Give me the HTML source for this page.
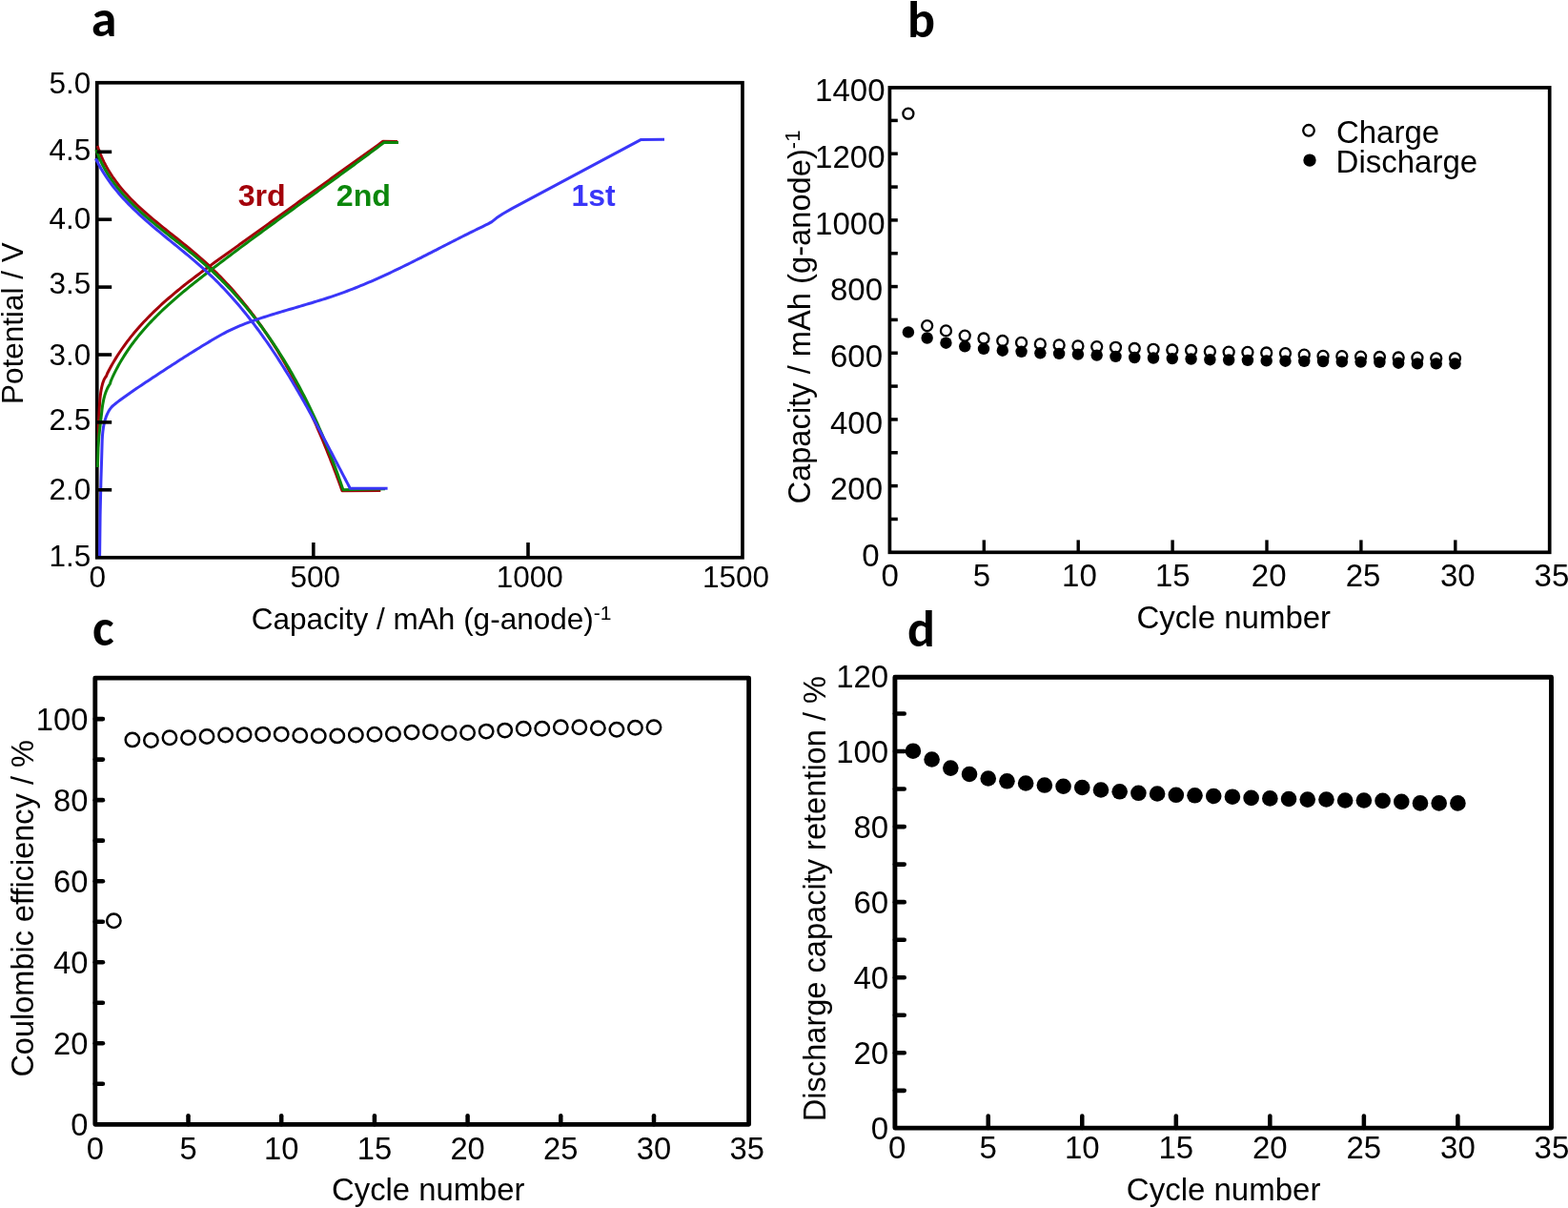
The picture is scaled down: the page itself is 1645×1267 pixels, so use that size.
<!DOCTYPE html>
<html><head><meta charset="utf-8"><title>Figure</title>
<style>html,body{margin:0;padding:0;background:#fff;}body{width:1645px;height:1267px;overflow:hidden;}svg{display:block;}</style>
</head><body>
<svg width="1645" height="1267" viewBox="0 0 1645 1267">
<rect width="1645" height="1267" fill="#fff"/>
<rect x="101.75" y="86.75" width="677.2" height="498.05" fill="none" stroke="#000" stroke-width="3.7" stroke-linejoin="miter"/>
<path d="M102.25,152.96 L103.23,155.94 L104.28,158.86 L105.4,161.73 L106.59,164.56 L107.83,167.33 L109.14,170.06 L110.51,172.75 L111.94,175.39 L113.42,177.98 L114.96,180.54 L116.55,183.05 L118.19,185.53 L119.89,187.97 L121.63,190.37 L123.42,192.74 L125.25,195.07 L127.12,197.37 L129.04,199.64 L131,201.88 L132.99,204.09 L135.02,206.28 L137.09,208.43 L139.19,210.57 L141.32,212.68 L143.48,214.76 L145.67,216.83 L147.88,218.88 L150.12,220.91 L152.39,222.92 L154.67,224.92 L156.97,226.9 L159.29,228.87 L161.63,230.83 L163.98,232.77 L166.35,234.71 L168.73,236.64 L171.11,238.57 L173.51,240.49 L175.91,242.4 L178.31,244.31 L180.72,246.22 L183.13,248.14 L185.54,250.05 L187.94,251.96 L190.35,253.88 L192.74,255.81 L195.13,257.74 L197.51,259.68 L199.88,261.62 L202.24,263.58 L204.59,265.55 L206.92,267.54 L209.23,269.53 L211.52,271.55 L213.79,273.57 L216.05,275.62 L218.28,277.68 L220.49,279.76 L222.69,281.85 L224.87,283.96 L227.02,286.08 L229.16,288.22 L231.28,290.37 L233.38,292.54 L235.47,294.72 L237.53,296.92 L239.58,299.13 L241.61,301.36 L243.62,303.6 L245.61,305.85 L247.59,308.12 L249.55,310.4 L251.49,312.7 L253.41,315 L255.32,317.33 L257.21,319.66 L259.08,322.01 L260.94,324.37 L262.78,326.74 L264.6,329.12 L266.41,331.52 L268.2,333.93 L269.98,336.35 L271.74,338.78 L273.49,341.23 L275.22,343.68 L276.93,346.15 L278.63,348.63 L280.31,351.12 L281.98,353.62 L283.64,356.13 L285.28,358.65 L286.9,361.18 L288.51,363.72 L290.11,366.27 L291.69,368.83 L293.26,371.4 L294.81,373.99 L296.35,376.58 L297.88,379.18 L299.39,381.78 L300.9,384.4 L302.38,387.03 L303.86,389.66 L305.32,392.31 L306.77,394.96 L308.2,397.62 L309.63,400.29 L311.04,402.97 L312.44,405.65 L313.83,408.34 L315.2,411.04 L316.57,413.75 L317.92,416.46 L319.26,419.18 L320.59,421.91 L321.91,424.64 L323.21,427.38 L324.51,430.13 L325.8,432.88 L327.07,435.64 L328.33,438.41 L329.59,441.18 L330.83,443.96 L332.06,446.74 L333.29,449.53 L334.5,452.32 L335.71,455.12 L336.9,457.92 L338.09,460.72 L339.26,463.54 L340.43,466.35 L341.58,469.17 L342.73,472 L343.87,474.82 L345,477.66 L346.13,480.49 L347.24,483.33 L348.35,486.17 L349.45,489.02 L350.54,491.87 L351.62,494.72 L352.7,497.57 L353.76,500.43 L354.82,503.29 L355.88,506.15 L356.92,509.01 L357.96,511.87 L358.99,514.74 L399.3,514.6" fill="none" stroke="#a3000a" stroke-width="3" stroke-linejoin="round" stroke-linecap="butt"/>
<path d="M103.2,462 L103.6,440 L104.3,427 L104.3,427 L104.55,422.8 L104.86,418.88 L105.24,415.22 L105.68,411.83 L106.18,408.72 L106.75,405.88 L107.38,403.3 L108.08,401 L108.84,398.97 L109.66,397.21 L110.55,395.72 L111.5,394.5 L112.57,391.73 L113.98,388.97 L115.44,386.24 L116.92,383.54 L118.44,380.87 L120,378.23 L121.58,375.63 L123.2,373.05 L124.85,370.5 L126.54,367.98 L128.25,365.49 L129.99,363.03 L131.76,360.59 L133.56,358.18 L135.39,355.8 L137.25,353.44 L139.13,351.11 L141.04,348.8 L142.98,346.51 L144.94,344.25 L146.93,342.01 L148.94,339.79 L150.97,337.6 L153.02,335.42 L155.1,333.27 L157.2,331.14 L159.32,329.02 L161.46,326.93 L163.62,324.85 L165.8,322.79 L168,320.75 L170.22,318.73 L172.45,316.72 L174.7,314.73 L176.97,312.75 L179.25,310.79 L181.55,308.84 L183.86,306.9 L186.18,304.98 L188.52,303.07 L190.87,301.18 L193.23,299.29 L195.61,297.42 L197.99,295.55 L200.39,293.7 L202.79,291.85 L205.2,290.02 L207.62,288.19 L210.05,286.37 L212.49,284.56 L214.93,282.75 L217.38,280.95 L219.84,279.16 L222.29,277.37 L224.76,275.58 L227.22,273.8 L229.69,272.02 L232.16,270.25 L234.64,268.47 L237.11,266.7 L239.59,264.93 L242.06,263.17 L244.54,261.4 L247.01,259.63 L249.48,257.86 L251.95,256.09 L254.42,254.32 L256.89,252.55 L259.36,250.78 L261.82,249.01 L264.29,247.24 L266.75,245.47 L269.22,243.7 L271.68,241.93 L274.14,240.16 L276.6,238.39 L279.06,236.62 L281.52,234.85 L283.98,233.08 L286.44,231.31 L288.9,229.54 L291.36,227.77 L293.81,226 L296.27,224.23 L298.72,222.46 L301.18,220.69 L303.63,218.92 L306.09,217.15 L308.54,215.38 L310.99,213.61 L313.45,211.84 L315.9,210.07 L318.35,208.3 L320.81,206.53 L323.26,204.76 L325.71,202.99 L328.16,201.22 L330.61,199.45 L333.06,197.68 L335.52,195.92 L337.97,194.15 L340.42,192.38 L342.87,190.61 L345.32,188.85 L347.77,187.08 L350.23,185.32 L352.68,183.55 L355.13,181.78 L357.58,180.02 L360.04,178.26 L362.49,176.49 L364.94,174.73 L367.4,172.96 L369.85,171.2 L372.31,169.44 L374.76,167.68 L377.22,165.92 L379.68,164.16 L382.13,162.4 L384.59,160.64 L387.05,158.88 L389.51,157.12 L391.97,155.36 L394.43,153.6 L396.89,151.85 L399.35,150.09 L401.81,148.33 L417,148.5" fill="none" stroke="#a3000a" stroke-width="3" stroke-linejoin="round" stroke-linecap="butt"/>
<path d="M100.88,156.98 L101.92,159.9 L103.01,162.77 L104.18,165.59 L105.4,168.37 L106.69,171.1 L108.04,173.78 L109.44,176.42 L110.91,179.02 L112.42,181.58 L113.99,184.09 L115.61,186.57 L117.29,189.02 L119.01,191.42 L120.77,193.79 L122.58,196.13 L124.44,198.44 L126.34,200.71 L128.27,202.96 L130.25,205.17 L132.27,207.36 L134.31,209.52 L136.4,211.66 L138.51,213.78 L140.66,215.87 L142.84,217.94 L145.04,219.99 L147.27,222.02 L149.52,224.04 L151.8,226.03 L154.09,228.02 L156.41,229.99 L158.75,231.94 L161.1,233.89 L163.46,235.83 L165.84,237.75 L168.23,239.67 L170.63,241.58 L173.04,243.49 L175.45,245.4 L177.87,247.3 L180.3,249.2 L182.72,251.1 L185.15,253 L187.57,254.9 L189.99,256.81 L192.41,258.72 L194.82,260.64 L197.22,262.56 L199.62,264.49 L202,266.44 L204.37,268.39 L206.72,270.35 L209.06,272.33 L211.39,274.33 L213.69,276.34 L215.97,278.36 L218.24,280.4 L220.49,282.45 L222.72,284.52 L224.93,286.61 L227.13,288.71 L229.31,290.82 L231.47,292.95 L233.61,295.09 L235.73,297.25 L237.84,299.42 L239.93,301.6 L242,303.8 L244.06,306.01 L246.1,308.24 L248.12,310.47 L250.12,312.73 L252.11,314.99 L254.08,317.27 L256.04,319.56 L257.97,321.87 L259.9,324.18 L261.8,326.51 L263.69,328.85 L265.56,331.21 L267.42,333.57 L269.26,335.95 L271.09,338.34 L272.89,340.75 L274.69,343.16 L276.47,345.59 L278.23,348.03 L279.98,350.47 L281.71,352.93 L283.42,355.41 L285.12,357.89 L286.81,360.38 L288.48,362.89 L290.14,365.4 L291.78,367.93 L293.41,370.46 L295.02,373.01 L296.62,375.57 L298.2,378.13 L299.77,380.71 L301.32,383.3 L302.86,385.89 L304.39,388.5 L305.9,391.12 L307.4,393.74 L308.88,396.38 L310.36,399.02 L311.81,401.67 L313.26,404.33 L314.69,407 L316.1,409.68 L317.51,412.37 L318.9,415.06 L320.28,417.77 L321.64,420.48 L322.99,423.2 L324.33,425.93 L325.66,428.67 L326.97,431.41 L328.27,434.16 L329.56,436.92 L330.84,439.69 L332.1,442.46 L333.35,445.24 L334.59,448.03 L335.82,450.82 L337.03,453.62 L338.24,456.43 L339.43,459.25 L340.61,462.07 L341.78,464.9 L342.94,467.73 L344.08,470.57 L345.22,473.41 L346.34,476.26 L347.46,479.12 L348.56,481.98 L349.65,484.85 L350.73,487.72 L351.8,490.6 L352.86,493.49 L353.9,496.38 L354.94,499.27 L355.97,502.17 L356.99,505.07 L357.99,507.98 L358.99,510.89 L359.98,513.8 L404,512.8" fill="none" stroke="#0b870b" stroke-width="3" stroke-linejoin="round" stroke-linecap="butt"/>
<path d="M102.4,490 L103,470 L103.8,457.6 L105.2,445 L106.7,432.8 L106.7,432.8 L107.05,429.41 L107.47,426.18 L107.96,423.11 L108.52,420.19 L109.15,417.43 L109.85,414.82 L110.62,412.38 L111.46,410.09 L112.36,407.96 L113.34,405.98 L114.38,404.16 L115.5,402.5 L116.28,399.61 L117.53,396.76 L118.83,393.95 L120.17,391.17 L121.55,388.42 L122.96,385.71 L124.42,383.03 L125.92,380.38 L127.45,377.76 L129.02,375.17 L130.62,372.61 L132.26,370.08 L133.94,367.58 L135.65,365.11 L137.39,362.66 L139.16,360.24 L140.96,357.85 L142.8,355.48 L144.66,353.14 L146.56,350.82 L148.48,348.53 L150.42,346.26 L152.4,344.01 L154.4,341.78 L156.43,339.58 L158.48,337.39 L160.55,335.23 L162.65,333.08 L164.76,330.95 L166.9,328.85 L169.06,326.76 L171.24,324.68 L173.44,322.62 L175.65,320.58 L177.89,318.56 L180.14,316.54 L182.4,314.55 L184.68,312.56 L186.98,310.59 L189.28,308.63 L191.6,306.68 L193.93,304.75 L196.28,302.82 L198.63,300.9 L200.99,299 L203.36,297.1 L205.74,295.21 L208.13,293.32 L210.52,291.45 L212.92,289.57 L215.32,287.71 L217.73,285.85 L220.14,283.99 L222.55,282.14 L224.97,280.29 L227.38,278.45 L229.8,276.6 L232.22,274.76 L234.65,272.93 L237.07,271.1 L239.5,269.27 L241.93,267.44 L244.36,265.62 L246.79,263.79 L249.22,261.98 L251.66,260.16 L254.1,258.35 L256.54,256.54 L258.98,254.73 L261.42,252.92 L263.86,251.12 L266.3,249.32 L268.75,247.52 L271.19,245.72 L273.64,243.92 L276.09,242.13 L278.54,240.34 L280.99,238.54 L283.44,236.76 L285.89,234.97 L288.34,233.18 L290.79,231.4 L293.25,229.61 L295.7,227.83 L298.15,226.05 L300.61,224.27 L303.06,222.49 L305.51,220.71 L307.97,218.93 L310.42,217.15 L312.88,215.38 L315.33,213.6 L317.79,211.82 L320.24,210.05 L322.7,208.27 L325.15,206.5 L327.6,204.72 L330.06,202.95 L332.51,201.17 L334.96,199.4 L337.41,197.62 L339.86,195.84 L342.31,194.07 L344.76,192.29 L347.21,190.51 L349.66,188.73 L352.1,186.96 L354.55,185.18 L356.99,183.4 L359.44,181.61 L361.88,179.83 L364.32,178.05 L366.76,176.26 L369.2,174.48 L371.63,172.69 L374.07,170.9 L376.5,169.11 L378.93,167.32 L381.36,165.52 L383.79,163.73 L386.22,161.93 L388.64,160.13 L391.06,158.33 L393.48,156.52 L395.9,154.72 L398.32,152.91 L400.73,151.1 L403.14,149.29 L418,149.6" fill="none" stroke="#0b870b" stroke-width="3" stroke-linejoin="round" stroke-linecap="butt"/>
<path d="M100.47,166.27 L101.79,169 L103.16,171.68 L104.59,174.33 L106.06,176.94 L107.58,179.51 L109.15,182.05 L110.76,184.55 L112.42,187.02 L114.12,189.45 L115.86,191.85 L117.64,194.23 L119.45,196.57 L121.31,198.88 L123.2,201.17 L125.13,203.43 L127.09,205.67 L129.08,207.88 L131.1,210.06 L133.15,212.23 L135.23,214.37 L137.33,216.49 L139.47,218.6 L141.62,220.68 L143.8,222.75 L146,224.8 L148.22,226.84 L150.46,228.86 L152.72,230.87 L155,232.87 L157.29,234.85 L159.59,236.83 L161.91,238.8 L164.24,240.76 L166.58,242.71 L168.92,244.65 L171.28,246.6 L173.64,248.53 L176.01,250.47 L178.37,252.4 L180.75,254.33 L183.12,256.27 L185.49,258.2 L187.86,260.14 L190.23,262.08 L192.6,264.02 L194.96,265.97 L197.31,267.92 L199.66,269.89 L201.99,271.86 L204.32,273.84 L206.63,275.83 L208.93,277.84 L211.22,279.85 L213.49,281.88 L215.74,283.93 L217.97,285.99 L220.19,288.07 L222.39,290.16 L224.56,292.27 L226.72,294.39 L228.86,296.54 L230.99,298.69 L233.09,300.86 L235.18,303.05 L237.25,305.25 L239.3,307.47 L241.33,309.7 L243.35,311.95 L245.35,314.2 L247.34,316.48 L249.31,318.76 L251.26,321.06 L253.2,323.37 L255.12,325.7 L257.02,328.04 L258.92,330.39 L260.79,332.75 L262.65,335.12 L264.5,337.51 L266.33,339.91 L268.15,342.31 L269.96,344.73 L271.75,347.16 L273.53,349.6 L275.3,352.05 L277.05,354.52 L278.79,356.99 L280.52,359.47 L282.23,361.96 L283.94,364.46 L285.63,366.97 L287.31,369.48 L288.98,372.01 L290.64,374.54 L292.29,377.08 L293.92,379.63 L295.55,382.19 L297.17,384.76 L298.78,387.33 L300.37,389.91 L301.96,392.49 L303.54,395.09 L305.11,397.68 L306.67,400.29 L308.22,402.9 L309.77,405.52 L311.3,408.14 L312.83,410.76 L314.35,413.4 L315.86,416.03 L317.37,418.67 L318.87,421.32 L320.36,423.97 L321.84,426.62 L323.32,429.28 L324.8,431.94 L326.26,434.6 L327.73,437.27 L329.18,439.94 L330.63,442.61 L332.08,445.28 L333.52,447.96 L334.96,450.64 L336.39,453.32 L337.82,456 L339.24,458.68 L340.66,461.36 L342.08,464.04 L343.49,466.73 L344.91,469.41 L346.32,472.1 L347.72,474.78 L349.13,477.46 L350.53,480.15 L351.93,482.83 L353.33,485.51 L354.72,488.19 L356.12,490.87 L357.52,493.55 L358.91,496.22 L360.3,498.89 L361.7,501.56 L363.09,504.23 L364.49,506.89 L365.88,509.55 L367.27,512.21 L406.6,512.3" fill="none" stroke="#3a36f8" stroke-width="3" stroke-linejoin="round" stroke-linecap="butt"/>
<path d="M104.6,583 L105.1,540 L105.9,505 L106.7,478.9 L107.2,462 L107.2,462 L107.46,457.15 L107.89,452.6 L108.47,448.34 L109.22,444.39 L110.13,440.73 L111.2,437.38 L112.43,434.32 L113.82,431.56 L115.38,429.09 L117.09,426.93 L118.96,425.07 L121,423.5 L123.36,421.6 L125.8,419.8 L128.25,418.01 L130.7,416.24 L133.17,414.48 L135.64,412.74 L138.12,411.01 L140.61,409.28 L143.11,407.57 L145.61,405.87 L148.12,404.18 L150.63,402.49 L153.15,400.81 L155.67,399.14 L158.2,397.47 L160.73,395.8 L163.26,394.14 L165.79,392.48 L168.33,390.82 L170.87,389.16 L173.41,387.5 L175.96,385.85 L178.5,384.2 L181.05,382.55 L183.6,380.9 L186.15,379.25 L188.71,377.61 L191.27,375.98 L193.83,374.35 L196.4,372.72 L198.97,371.1 L201.54,369.48 L204.11,367.87 L206.69,366.26 L209.28,364.67 L211.86,363.08 L214.45,361.49 L217.05,359.92 L219.65,358.35 L222.25,356.8 L224.87,355.26 L227.49,353.74 L230.12,352.24 L232.77,350.78 L235.43,349.34 L238.11,347.95 L240.8,346.6 L243.52,345.29 L246.26,344.03 L249.01,342.82 L251.79,341.65 L254.58,340.52 L257.39,339.43 L260.21,338.37 L263.05,337.34 L265.9,336.33 L268.75,335.34 L271.62,334.37 L274.49,333.42 L277.37,332.49 L280.25,331.56 L283.14,330.65 L286.04,329.76 L288.94,328.87 L291.85,327.99 L294.75,327.12 L297.67,326.25 L300.58,325.4 L303.5,324.54 L306.42,323.69 L309.34,322.84 L312.26,321.98 L315.18,321.13 L318.1,320.28 L321.02,319.42 L323.93,318.56 L326.85,317.69 L329.76,316.81 L332.67,315.92 L335.57,315.03 L338.47,314.12 L341.37,313.2 L344.25,312.27 L347.14,311.32 L350.01,310.36 L352.88,309.38 L355.75,308.38 L358.6,307.36 L361.44,306.32 L364.28,305.26 L367.11,304.19 L369.94,303.1 L372.75,301.99 L375.56,300.87 L378.37,299.73 L381.17,298.57 L383.96,297.4 L386.74,296.22 L389.52,295.02 L392.3,293.81 L395.06,292.58 L397.83,291.34 L400.59,290.1 L403.34,288.84 L406.09,287.57 L408.83,286.28 L411.57,284.99 L414.31,283.69 L417.04,282.38 L419.77,281.07 L422.5,279.74 L425.22,278.41 L427.94,277.07 L430.66,275.73 L433.38,274.38 L436.09,273.02 L438.8,271.66 L441.51,270.29 L444.22,268.92 L446.92,267.55 L449.63,266.18 L452.33,264.8 L455.03,263.42 L457.74,262.04 L460.44,260.66 L463.14,259.27 L465.84,257.89 L468.54,256.51 L471.24,255.13 L473.95,253.75 L476.65,252.38 L479.35,251 L482.06,249.63 L484.76,248.27 L487.47,246.91 L490.18,245.55 L492.89,244.2 L495.61,242.85 L498.33,241.51 L501.04,240.18 L503.77,238.85 L506.49,237.53 L509.22,236.22 L511.95,234.92 L516,232.6 L521,228.6 L527.5,224.2 L537.3,218.6 L672.6,146.4 L697,146.2" fill="none" stroke="#3a36f8" stroke-width="3" stroke-linejoin="round" stroke-linecap="butt"/>
<line x1="101.75" y1="159.3" x2="117.2" y2="159.3" stroke="#000" stroke-width="3.6" stroke-linecap="butt"/>
<line x1="101.75" y1="230.2" x2="117.2" y2="230.2" stroke="#000" stroke-width="3.6" stroke-linecap="butt"/>
<line x1="101.75" y1="301.1" x2="117.2" y2="301.1" stroke="#000" stroke-width="3.6" stroke-linecap="butt"/>
<line x1="101.75" y1="372" x2="117.2" y2="372" stroke="#000" stroke-width="3.6" stroke-linecap="butt"/>
<line x1="101.75" y1="442.9" x2="117.2" y2="442.9" stroke="#000" stroke-width="3.6" stroke-linecap="butt"/>
<line x1="101.75" y1="513.8" x2="117.2" y2="513.8" stroke="#000" stroke-width="3.6" stroke-linecap="butt"/>
<line x1="328.8" y1="584.8" x2="328.8" y2="569" stroke="#000" stroke-width="3.6" stroke-linecap="butt"/>
<line x1="554" y1="584.8" x2="554" y2="569" stroke="#000" stroke-width="3.6" stroke-linecap="butt"/>
<text x="95.2" y="98.28" font-size="31.5" text-anchor="end" font-weight="normal" fill="#000" font-family="'Liberation Sans', Arial, Helvetica, sans-serif">5.0</text>
<text x="95.2" y="168.48" font-size="31.5" text-anchor="end" font-weight="normal" fill="#000" font-family="'Liberation Sans', Arial, Helvetica, sans-serif">4.5</text>
<text x="95.2" y="240.28" font-size="31.5" text-anchor="end" font-weight="normal" fill="#000" font-family="'Liberation Sans', Arial, Helvetica, sans-serif">4.0</text>
<text x="95.2" y="307.68" font-size="31.5" text-anchor="end" font-weight="normal" fill="#000" font-family="'Liberation Sans', Arial, Helvetica, sans-serif">3.5</text>
<text x="95.2" y="382.58" font-size="31.5" text-anchor="end" font-weight="normal" fill="#000" font-family="'Liberation Sans', Arial, Helvetica, sans-serif">3.0</text>
<text x="95.2" y="451.38" font-size="31.5" text-anchor="end" font-weight="normal" fill="#000" font-family="'Liberation Sans', Arial, Helvetica, sans-serif">2.5</text>
<text x="95.2" y="524.48" font-size="31.5" text-anchor="end" font-weight="normal" fill="#000" font-family="'Liberation Sans', Arial, Helvetica, sans-serif">2.0</text>
<text x="95.2" y="594.08" font-size="31.5" text-anchor="end" font-weight="normal" fill="#000" font-family="'Liberation Sans', Arial, Helvetica, sans-serif">1.5</text>
<text x="102.2" y="616.3" font-size="31.5" text-anchor="middle" font-weight="normal" fill="#000" font-family="'Liberation Sans', Arial, Helvetica, sans-serif">0</text>
<text x="330.8" y="616.3" font-size="31.5" text-anchor="middle" font-weight="normal" fill="#000" font-family="'Liberation Sans', Arial, Helvetica, sans-serif">500</text>
<text x="555.7" y="616.3" font-size="31.5" text-anchor="middle" font-weight="normal" fill="#000" font-family="'Liberation Sans', Arial, Helvetica, sans-serif">1000</text>
<text x="772.1" y="616.3" font-size="31.5" text-anchor="middle" font-weight="normal" fill="#000" font-family="'Liberation Sans', Arial, Helvetica, sans-serif">1500</text>
<text x="263.8" y="659.5" font-size="31.5" text-anchor="start" font-weight="normal" fill="#000" font-family="'Liberation Sans', Arial, Helvetica, sans-serif">Capacity / mAh (g-anode)<tspan font-size="21" dy="-9.3">-1</tspan></text>
<text x="0" y="0" font-size="31.5" text-anchor="start" font-weight="normal" fill="#000" font-family="'Liberation Sans', Arial, Helvetica, sans-serif" transform="translate(23.6,424) rotate(-90)">Potential / V</text>
<text x="249.7" y="216.1" font-size="32.2" text-anchor="start" font-weight="bold" fill="#a3000a" font-family="'Liberation Sans', Arial, Helvetica, sans-serif">3rd</text>
<text x="352.8" y="216.1" font-size="32.2" text-anchor="start" font-weight="bold" fill="#0b870b" font-family="'Liberation Sans', Arial, Helvetica, sans-serif">2nd</text>
<text x="599.5" y="216.1" font-size="32" text-anchor="start" font-weight="bold" fill="#3a36f8" font-family="'Liberation Sans', Arial, Helvetica, sans-serif">1st</text>
<rect x="933.4" y="91.9" width="692.3" height="487.4" fill="none" stroke="#000" stroke-width="3.7" stroke-linejoin="miter"/>
<line x1="933.4" y1="544.46" x2="941.8" y2="544.46" stroke="#000" stroke-width="3.5" stroke-linecap="butt"/>
<line x1="933.4" y1="509.62" x2="941.8" y2="509.62" stroke="#000" stroke-width="3.5" stroke-linecap="butt"/>
<line x1="933.4" y1="474.78" x2="941.8" y2="474.78" stroke="#000" stroke-width="3.5" stroke-linecap="butt"/>
<line x1="933.4" y1="439.94" x2="941.8" y2="439.94" stroke="#000" stroke-width="3.5" stroke-linecap="butt"/>
<line x1="933.4" y1="405.1" x2="941.8" y2="405.1" stroke="#000" stroke-width="3.5" stroke-linecap="butt"/>
<line x1="933.4" y1="370.26" x2="941.8" y2="370.26" stroke="#000" stroke-width="3.5" stroke-linecap="butt"/>
<line x1="933.4" y1="335.42" x2="941.8" y2="335.42" stroke="#000" stroke-width="3.5" stroke-linecap="butt"/>
<line x1="933.4" y1="300.58" x2="941.8" y2="300.58" stroke="#000" stroke-width="3.5" stroke-linecap="butt"/>
<line x1="933.4" y1="265.74" x2="941.8" y2="265.74" stroke="#000" stroke-width="3.5" stroke-linecap="butt"/>
<line x1="933.4" y1="230.9" x2="941.8" y2="230.9" stroke="#000" stroke-width="3.5" stroke-linecap="butt"/>
<line x1="933.4" y1="196.06" x2="941.8" y2="196.06" stroke="#000" stroke-width="3.5" stroke-linecap="butt"/>
<line x1="933.4" y1="161.22" x2="941.8" y2="161.22" stroke="#000" stroke-width="3.5" stroke-linecap="butt"/>
<line x1="933.4" y1="126.38" x2="941.8" y2="126.38" stroke="#000" stroke-width="3.5" stroke-linecap="butt"/>
<line x1="1032.3" y1="579.3" x2="1032.3" y2="566.4" stroke="#000" stroke-width="3.4" stroke-linecap="butt"/>
<line x1="1131.2" y1="579.3" x2="1131.2" y2="566.4" stroke="#000" stroke-width="3.4" stroke-linecap="butt"/>
<line x1="1230.1" y1="579.3" x2="1230.1" y2="566.4" stroke="#000" stroke-width="3.4" stroke-linecap="butt"/>
<line x1="1329" y1="579.3" x2="1329" y2="566.4" stroke="#000" stroke-width="3.4" stroke-linecap="butt"/>
<line x1="1427.9" y1="579.3" x2="1427.9" y2="566.4" stroke="#000" stroke-width="3.4" stroke-linecap="butt"/>
<line x1="1526.8" y1="579.3" x2="1526.8" y2="566.4" stroke="#000" stroke-width="3.4" stroke-linecap="butt"/>
<text x="922.5" y="594.11" font-size="33" text-anchor="end" font-weight="normal" fill="#000" font-family="'Liberation Sans', Arial, Helvetica, sans-serif">0</text>
<text x="926" y="524.43" font-size="33" text-anchor="end" font-weight="normal" fill="#000" font-family="'Liberation Sans', Arial, Helvetica, sans-serif">200</text>
<text x="926" y="454.75" font-size="33" text-anchor="end" font-weight="normal" fill="#000" font-family="'Liberation Sans', Arial, Helvetica, sans-serif">400</text>
<text x="926" y="385.07" font-size="33" text-anchor="end" font-weight="normal" fill="#000" font-family="'Liberation Sans', Arial, Helvetica, sans-serif">600</text>
<text x="926" y="315.39" font-size="33" text-anchor="end" font-weight="normal" fill="#000" font-family="'Liberation Sans', Arial, Helvetica, sans-serif">800</text>
<text x="928.5" y="245.71" font-size="33" text-anchor="end" font-weight="normal" fill="#000" font-family="'Liberation Sans', Arial, Helvetica, sans-serif">1000</text>
<text x="928.5" y="176.03" font-size="33" text-anchor="end" font-weight="normal" fill="#000" font-family="'Liberation Sans', Arial, Helvetica, sans-serif">1200</text>
<text x="928.5" y="106.35" font-size="33" text-anchor="end" font-weight="normal" fill="#000" font-family="'Liberation Sans', Arial, Helvetica, sans-serif">1400</text>
<text x="933.6" y="614.9" font-size="33" text-anchor="middle" font-weight="normal" fill="#000" font-family="'Liberation Sans', Arial, Helvetica, sans-serif">0</text>
<text x="1029.9" y="614.9" font-size="33" text-anchor="middle" font-weight="normal" fill="#000" font-family="'Liberation Sans', Arial, Helvetica, sans-serif">5</text>
<text x="1132.4" y="614.9" font-size="33" text-anchor="middle" font-weight="normal" fill="#000" font-family="'Liberation Sans', Arial, Helvetica, sans-serif">10</text>
<text x="1230.3" y="614.9" font-size="33" text-anchor="middle" font-weight="normal" fill="#000" font-family="'Liberation Sans', Arial, Helvetica, sans-serif">15</text>
<text x="1331.2" y="614.9" font-size="33" text-anchor="middle" font-weight="normal" fill="#000" font-family="'Liberation Sans', Arial, Helvetica, sans-serif">20</text>
<text x="1430.1" y="614.9" font-size="33" text-anchor="middle" font-weight="normal" fill="#000" font-family="'Liberation Sans', Arial, Helvetica, sans-serif">25</text>
<text x="1529.3" y="614.9" font-size="33" text-anchor="middle" font-weight="normal" fill="#000" font-family="'Liberation Sans', Arial, Helvetica, sans-serif">30</text>
<text x="1627.9" y="614.9" font-size="33" text-anchor="middle" font-weight="normal" fill="#000" font-family="'Liberation Sans', Arial, Helvetica, sans-serif">35</text>
<text x="1192.5" y="658.8" font-size="33" text-anchor="start" font-weight="normal" fill="#000" font-family="'Liberation Sans', Arial, Helvetica, sans-serif">Cycle number</text>
<text x="0" y="0" font-size="32.7" text-anchor="start" font-weight="normal" fill="#000" font-family="'Liberation Sans', Arial, Helvetica, sans-serif" transform="translate(849.5,528.6) rotate(-90)">Capacity / mAh (g-anode)<tspan font-size="22" dy="-10.5">-1</tspan></text>
<circle cx="1373" cy="136.8" r="5.8" fill="#fff" stroke="#000" stroke-width="2.3"/>
<circle cx="1374" cy="168.1" r="6.7" fill="#000"/>
<text x="1401.9" y="149.8" font-size="33" text-anchor="start" font-weight="normal" fill="#000" font-family="'Liberation Sans', Arial, Helvetica, sans-serif">Charge</text>
<text x="1401.6" y="180.9" font-size="33" text-anchor="start" font-weight="normal" fill="#000" font-family="'Liberation Sans', Arial, Helvetica, sans-serif">Discharge</text>
<circle cx="952.88" cy="119.2" r="5.5" fill="#fff" stroke="#000" stroke-width="2.3"/>
<circle cx="972.66" cy="341.6" r="5.5" fill="#fff" stroke="#000" stroke-width="2.3"/>
<circle cx="992.44" cy="346.9" r="5.5" fill="#fff" stroke="#000" stroke-width="2.3"/>
<circle cx="1012.22" cy="352.1" r="5.5" fill="#fff" stroke="#000" stroke-width="2.3"/>
<circle cx="1032" cy="355" r="5.5" fill="#fff" stroke="#000" stroke-width="2.3"/>
<circle cx="1051.78" cy="357.5" r="5.5" fill="#fff" stroke="#000" stroke-width="2.3"/>
<circle cx="1071.56" cy="359.4" r="5.5" fill="#fff" stroke="#000" stroke-width="2.3"/>
<circle cx="1091.34" cy="360.9" r="5.5" fill="#fff" stroke="#000" stroke-width="2.3"/>
<circle cx="1111.12" cy="361.9" r="5.5" fill="#fff" stroke="#000" stroke-width="2.3"/>
<circle cx="1130.9" cy="362.9" r="5.5" fill="#fff" stroke="#000" stroke-width="2.3"/>
<circle cx="1150.68" cy="363.6" r="5.5" fill="#fff" stroke="#000" stroke-width="2.3"/>
<circle cx="1170.46" cy="364.3" r="5.5" fill="#fff" stroke="#000" stroke-width="2.3"/>
<circle cx="1190.24" cy="365.5" r="5.5" fill="#fff" stroke="#000" stroke-width="2.3"/>
<circle cx="1210.02" cy="366.3" r="5.5" fill="#fff" stroke="#000" stroke-width="2.3"/>
<circle cx="1229.8" cy="367" r="5.5" fill="#fff" stroke="#000" stroke-width="2.3"/>
<circle cx="1249.58" cy="367.5" r="5.5" fill="#fff" stroke="#000" stroke-width="2.3"/>
<circle cx="1269.36" cy="368.7" r="5.5" fill="#fff" stroke="#000" stroke-width="2.3"/>
<circle cx="1289.14" cy="369.2" r="5.5" fill="#fff" stroke="#000" stroke-width="2.3"/>
<circle cx="1308.92" cy="369.4" r="5.5" fill="#fff" stroke="#000" stroke-width="2.3"/>
<circle cx="1328.7" cy="370" r="5.5" fill="#fff" stroke="#000" stroke-width="2.3"/>
<circle cx="1348.48" cy="370.6" r="5.5" fill="#fff" stroke="#000" stroke-width="2.3"/>
<circle cx="1368.26" cy="372.2" r="5.5" fill="#fff" stroke="#000" stroke-width="2.3"/>
<circle cx="1388.04" cy="373.4" r="5.5" fill="#fff" stroke="#000" stroke-width="2.3"/>
<circle cx="1407.82" cy="373.7" r="5.5" fill="#fff" stroke="#000" stroke-width="2.3"/>
<circle cx="1427.6" cy="374.1" r="5.5" fill="#fff" stroke="#000" stroke-width="2.3"/>
<circle cx="1447.38" cy="374.5" r="5.5" fill="#fff" stroke="#000" stroke-width="2.3"/>
<circle cx="1467.16" cy="375" r="5.5" fill="#fff" stroke="#000" stroke-width="2.3"/>
<circle cx="1486.94" cy="375.2" r="5.5" fill="#fff" stroke="#000" stroke-width="2.3"/>
<circle cx="1506.72" cy="375.8" r="5.5" fill="#fff" stroke="#000" stroke-width="2.3"/>
<circle cx="1526.5" cy="375.8" r="5.5" fill="#fff" stroke="#000" stroke-width="2.3"/>
<circle cx="952.88" cy="348.4" r="6.2" fill="#000"/>
<circle cx="972.66" cy="354.5" r="6.2" fill="#000"/>
<circle cx="992.44" cy="359.7" r="6.2" fill="#000"/>
<circle cx="1012.22" cy="363.3" r="6.2" fill="#000"/>
<circle cx="1032" cy="365.9" r="6.2" fill="#000"/>
<circle cx="1051.78" cy="367.7" r="6.2" fill="#000"/>
<circle cx="1071.56" cy="368.8" r="6.2" fill="#000"/>
<circle cx="1091.34" cy="370.3" r="6.2" fill="#000"/>
<circle cx="1111.12" cy="370.9" r="6.2" fill="#000"/>
<circle cx="1130.9" cy="371.6" r="6.2" fill="#000"/>
<circle cx="1150.68" cy="372.6" r="6.2" fill="#000"/>
<circle cx="1170.46" cy="373.9" r="6.2" fill="#000"/>
<circle cx="1190.24" cy="375" r="6.2" fill="#000"/>
<circle cx="1210.02" cy="375.5" r="6.2" fill="#000"/>
<circle cx="1229.8" cy="376.1" r="6.2" fill="#000"/>
<circle cx="1249.58" cy="376.5" r="6.2" fill="#000"/>
<circle cx="1269.36" cy="377.2" r="6.2" fill="#000"/>
<circle cx="1289.14" cy="377.5" r="6.2" fill="#000"/>
<circle cx="1308.92" cy="377.9" r="6.2" fill="#000"/>
<circle cx="1328.7" cy="378.4" r="6.2" fill="#000"/>
<circle cx="1348.48" cy="378.7" r="6.2" fill="#000"/>
<circle cx="1368.26" cy="378.9" r="6.2" fill="#000"/>
<circle cx="1388.04" cy="379" r="6.2" fill="#000"/>
<circle cx="1407.82" cy="379.4" r="6.2" fill="#000"/>
<circle cx="1427.6" cy="379.6" r="6.2" fill="#000"/>
<circle cx="1447.38" cy="379.9" r="6.2" fill="#000"/>
<circle cx="1467.16" cy="380.7" r="6.2" fill="#000"/>
<circle cx="1486.94" cy="381.4" r="6.2" fill="#000"/>
<circle cx="1506.72" cy="381.4" r="6.2" fill="#000"/>
<circle cx="1526.5" cy="381.4" r="6.2" fill="#000"/>
<rect x="99.8" y="711.1" width="685.8" height="468.2" fill="none" stroke="#000" stroke-width="4.8" stroke-linejoin="round"/>
<line x1="99.8" y1="1136.78" x2="107.9" y2="1136.78" stroke="#000" stroke-width="4.6" stroke-linecap="round"/>
<line x1="99.8" y1="1094.26" x2="107.9" y2="1094.26" stroke="#000" stroke-width="4.6" stroke-linecap="round"/>
<line x1="99.8" y1="1051.74" x2="107.9" y2="1051.74" stroke="#000" stroke-width="4.6" stroke-linecap="round"/>
<line x1="99.8" y1="1009.22" x2="107.9" y2="1009.22" stroke="#000" stroke-width="4.6" stroke-linecap="round"/>
<line x1="99.8" y1="966.7" x2="107.9" y2="966.7" stroke="#000" stroke-width="4.6" stroke-linecap="round"/>
<line x1="99.8" y1="924.18" x2="107.9" y2="924.18" stroke="#000" stroke-width="4.6" stroke-linecap="round"/>
<line x1="99.8" y1="881.66" x2="107.9" y2="881.66" stroke="#000" stroke-width="4.6" stroke-linecap="round"/>
<line x1="99.8" y1="839.14" x2="107.9" y2="839.14" stroke="#000" stroke-width="4.6" stroke-linecap="round"/>
<line x1="99.8" y1="796.62" x2="107.9" y2="796.62" stroke="#000" stroke-width="4.6" stroke-linecap="round"/>
<line x1="99.8" y1="754.1" x2="107.9" y2="754.1" stroke="#000" stroke-width="4.6" stroke-linecap="round"/>
<line x1="197.5" y1="1179.3" x2="197.5" y2="1170.25" stroke="#000" stroke-width="4.5" stroke-linecap="round"/>
<line x1="295.2" y1="1179.3" x2="295.2" y2="1170.25" stroke="#000" stroke-width="4.5" stroke-linecap="round"/>
<line x1="392.9" y1="1179.3" x2="392.9" y2="1170.25" stroke="#000" stroke-width="4.5" stroke-linecap="round"/>
<line x1="490.6" y1="1179.3" x2="490.6" y2="1170.25" stroke="#000" stroke-width="4.5" stroke-linecap="round"/>
<line x1="588.3" y1="1179.3" x2="588.3" y2="1170.25" stroke="#000" stroke-width="4.5" stroke-linecap="round"/>
<line x1="686" y1="1179.3" x2="686" y2="1170.25" stroke="#000" stroke-width="4.5" stroke-linecap="round"/>
<text x="92.4" y="1191.01" font-size="32.7" text-anchor="end" font-weight="normal" fill="#000" font-family="'Liberation Sans', Arial, Helvetica, sans-serif">0</text>
<text x="92.4" y="1105.97" font-size="32.7" text-anchor="end" font-weight="normal" fill="#000" font-family="'Liberation Sans', Arial, Helvetica, sans-serif">20</text>
<text x="92.4" y="1020.93" font-size="32.7" text-anchor="end" font-weight="normal" fill="#000" font-family="'Liberation Sans', Arial, Helvetica, sans-serif">40</text>
<text x="92.4" y="935.89" font-size="32.7" text-anchor="end" font-weight="normal" fill="#000" font-family="'Liberation Sans', Arial, Helvetica, sans-serif">60</text>
<text x="92.4" y="850.85" font-size="32.7" text-anchor="end" font-weight="normal" fill="#000" font-family="'Liberation Sans', Arial, Helvetica, sans-serif">80</text>
<text x="92.4" y="765.81" font-size="32.7" text-anchor="end" font-weight="normal" fill="#000" font-family="'Liberation Sans', Arial, Helvetica, sans-serif">100</text>
<text x="99.8" y="1215.7" font-size="32.7" text-anchor="middle" font-weight="normal" fill="#000" font-family="'Liberation Sans', Arial, Helvetica, sans-serif">0</text>
<text x="197.5" y="1215.7" font-size="32.7" text-anchor="middle" font-weight="normal" fill="#000" font-family="'Liberation Sans', Arial, Helvetica, sans-serif">5</text>
<text x="295.2" y="1215.7" font-size="32.7" text-anchor="middle" font-weight="normal" fill="#000" font-family="'Liberation Sans', Arial, Helvetica, sans-serif">10</text>
<text x="392.9" y="1215.7" font-size="32.7" text-anchor="middle" font-weight="normal" fill="#000" font-family="'Liberation Sans', Arial, Helvetica, sans-serif">15</text>
<text x="490.6" y="1215.7" font-size="32.7" text-anchor="middle" font-weight="normal" fill="#000" font-family="'Liberation Sans', Arial, Helvetica, sans-serif">20</text>
<text x="588.3" y="1215.7" font-size="32.7" text-anchor="middle" font-weight="normal" fill="#000" font-family="'Liberation Sans', Arial, Helvetica, sans-serif">25</text>
<text x="686" y="1215.7" font-size="32.7" text-anchor="middle" font-weight="normal" fill="#000" font-family="'Liberation Sans', Arial, Helvetica, sans-serif">30</text>
<text x="783.7" y="1215.7" font-size="32.7" text-anchor="middle" font-weight="normal" fill="#000" font-family="'Liberation Sans', Arial, Helvetica, sans-serif">35</text>
<text x="348.1" y="1258.8" font-size="32.8" text-anchor="start" font-weight="normal" fill="#000" font-family="'Liberation Sans', Arial, Helvetica, sans-serif">Cycle number</text>
<text x="0" y="0" font-size="32.5" text-anchor="start" font-weight="normal" fill="#000" font-family="'Liberation Sans', Arial, Helvetica, sans-serif" transform="translate(35.2,1129.6) rotate(-90)">Coulombic efficiency / %</text>
<circle cx="119.34" cy="965.7" r="7.2" fill="none" stroke="#000" stroke-width="2.5"/>
<circle cx="138.88" cy="775.9" r="7.2" fill="none" stroke="#000" stroke-width="2.5"/>
<circle cx="158.42" cy="776.5" r="7.2" fill="none" stroke="#000" stroke-width="2.5"/>
<circle cx="177.96" cy="773.7" r="7.2" fill="none" stroke="#000" stroke-width="2.5"/>
<circle cx="197.5" cy="773.7" r="7.2" fill="none" stroke="#000" stroke-width="2.5"/>
<circle cx="217.04" cy="772.5" r="7.2" fill="none" stroke="#000" stroke-width="2.5"/>
<circle cx="236.58" cy="771" r="7.2" fill="none" stroke="#000" stroke-width="2.5"/>
<circle cx="256.12" cy="770.6" r="7.2" fill="none" stroke="#000" stroke-width="2.5"/>
<circle cx="275.66" cy="770.1" r="7.2" fill="none" stroke="#000" stroke-width="2.5"/>
<circle cx="295.2" cy="770.1" r="7.2" fill="none" stroke="#000" stroke-width="2.5"/>
<circle cx="314.74" cy="771.4" r="7.2" fill="none" stroke="#000" stroke-width="2.5"/>
<circle cx="334.28" cy="771.9" r="7.2" fill="none" stroke="#000" stroke-width="2.5"/>
<circle cx="353.82" cy="771.9" r="7.2" fill="none" stroke="#000" stroke-width="2.5"/>
<circle cx="373.36" cy="771" r="7.2" fill="none" stroke="#000" stroke-width="2.5"/>
<circle cx="392.9" cy="770.25" r="7.2" fill="none" stroke="#000" stroke-width="2.5"/>
<circle cx="412.44" cy="770" r="7.2" fill="none" stroke="#000" stroke-width="2.5"/>
<circle cx="431.98" cy="768.1" r="7.2" fill="none" stroke="#000" stroke-width="2.5"/>
<circle cx="451.52" cy="767.7" r="7.2" fill="none" stroke="#000" stroke-width="2.5"/>
<circle cx="471.06" cy="769" r="7.2" fill="none" stroke="#000" stroke-width="2.5"/>
<circle cx="490.6" cy="768.5" r="7.2" fill="none" stroke="#000" stroke-width="2.5"/>
<circle cx="510.14" cy="767.1" r="7.2" fill="none" stroke="#000" stroke-width="2.5"/>
<circle cx="529.68" cy="766.1" r="7.2" fill="none" stroke="#000" stroke-width="2.5"/>
<circle cx="549.22" cy="764.2" r="7.2" fill="none" stroke="#000" stroke-width="2.5"/>
<circle cx="568.76" cy="764.2" r="7.2" fill="none" stroke="#000" stroke-width="2.5"/>
<circle cx="588.3" cy="762.8" r="7.2" fill="none" stroke="#000" stroke-width="2.5"/>
<circle cx="607.84" cy="762.8" r="7.2" fill="none" stroke="#000" stroke-width="2.5"/>
<circle cx="627.38" cy="763.8" r="7.2" fill="none" stroke="#000" stroke-width="2.5"/>
<circle cx="646.92" cy="765.2" r="7.2" fill="none" stroke="#000" stroke-width="2.5"/>
<circle cx="666.46" cy="763.2" r="7.2" fill="none" stroke="#000" stroke-width="2.5"/>
<circle cx="686" cy="762.8" r="7.2" fill="none" stroke="#000" stroke-width="2.5"/>
<rect x="938.9" y="710.2" width="688.6" height="472.9" fill="none" stroke="#000" stroke-width="4.9" stroke-linejoin="round"/>
<line x1="938.9" y1="1143.86" x2="948.7" y2="1143.86" stroke="#000" stroke-width="4.6" stroke-linecap="round"/>
<line x1="938.9" y1="1104.32" x2="948.7" y2="1104.32" stroke="#000" stroke-width="4.6" stroke-linecap="round"/>
<line x1="938.9" y1="1064.78" x2="948.7" y2="1064.78" stroke="#000" stroke-width="4.6" stroke-linecap="round"/>
<line x1="938.9" y1="1025.24" x2="948.7" y2="1025.24" stroke="#000" stroke-width="4.6" stroke-linecap="round"/>
<line x1="938.9" y1="985.7" x2="948.7" y2="985.7" stroke="#000" stroke-width="4.6" stroke-linecap="round"/>
<line x1="938.9" y1="946.16" x2="948.7" y2="946.16" stroke="#000" stroke-width="4.6" stroke-linecap="round"/>
<line x1="938.9" y1="906.62" x2="948.7" y2="906.62" stroke="#000" stroke-width="4.6" stroke-linecap="round"/>
<line x1="938.9" y1="867.08" x2="948.7" y2="867.08" stroke="#000" stroke-width="4.6" stroke-linecap="round"/>
<line x1="938.9" y1="827.54" x2="948.7" y2="827.54" stroke="#000" stroke-width="4.6" stroke-linecap="round"/>
<line x1="938.9" y1="788" x2="948.7" y2="788" stroke="#000" stroke-width="4.6" stroke-linecap="round"/>
<line x1="938.9" y1="748.46" x2="948.7" y2="748.46" stroke="#000" stroke-width="4.6" stroke-linecap="round"/>
<line x1="1036.74" y1="1183.1" x2="1036.74" y2="1170.45" stroke="#000" stroke-width="4.5" stroke-linecap="round"/>
<line x1="1135.27" y1="1183.1" x2="1135.27" y2="1170.45" stroke="#000" stroke-width="4.5" stroke-linecap="round"/>
<line x1="1233.81" y1="1183.1" x2="1233.81" y2="1170.45" stroke="#000" stroke-width="4.5" stroke-linecap="round"/>
<line x1="1332.34" y1="1183.1" x2="1332.34" y2="1170.45" stroke="#000" stroke-width="4.5" stroke-linecap="round"/>
<line x1="1430.88" y1="1183.1" x2="1430.88" y2="1170.45" stroke="#000" stroke-width="4.5" stroke-linecap="round"/>
<line x1="1529.41" y1="1183.1" x2="1529.41" y2="1170.45" stroke="#000" stroke-width="4.5" stroke-linecap="round"/>
<text x="932.2" y="1195.21" font-size="33" text-anchor="end" font-weight="normal" fill="#000" font-family="'Liberation Sans', Arial, Helvetica, sans-serif">0</text>
<text x="932.2" y="1116.13" font-size="33" text-anchor="end" font-weight="normal" fill="#000" font-family="'Liberation Sans', Arial, Helvetica, sans-serif">20</text>
<text x="932.2" y="1037.05" font-size="33" text-anchor="end" font-weight="normal" fill="#000" font-family="'Liberation Sans', Arial, Helvetica, sans-serif">40</text>
<text x="932.2" y="957.97" font-size="33" text-anchor="end" font-weight="normal" fill="#000" font-family="'Liberation Sans', Arial, Helvetica, sans-serif">60</text>
<text x="932.2" y="878.89" font-size="33" text-anchor="end" font-weight="normal" fill="#000" font-family="'Liberation Sans', Arial, Helvetica, sans-serif">80</text>
<text x="932.2" y="799.81" font-size="33" text-anchor="end" font-weight="normal" fill="#000" font-family="'Liberation Sans', Arial, Helvetica, sans-serif">100</text>
<text x="932.2" y="720.73" font-size="33" text-anchor="end" font-weight="normal" fill="#000" font-family="'Liberation Sans', Arial, Helvetica, sans-serif">120</text>
<text x="941.2" y="1214.9" font-size="33" text-anchor="middle" font-weight="normal" fill="#000" font-family="'Liberation Sans', Arial, Helvetica, sans-serif">0</text>
<text x="1036.74" y="1214.9" font-size="33" text-anchor="middle" font-weight="normal" fill="#000" font-family="'Liberation Sans', Arial, Helvetica, sans-serif">5</text>
<text x="1135.27" y="1214.9" font-size="33" text-anchor="middle" font-weight="normal" fill="#000" font-family="'Liberation Sans', Arial, Helvetica, sans-serif">10</text>
<text x="1233.81" y="1214.9" font-size="33" text-anchor="middle" font-weight="normal" fill="#000" font-family="'Liberation Sans', Arial, Helvetica, sans-serif">15</text>
<text x="1332.34" y="1214.9" font-size="33" text-anchor="middle" font-weight="normal" fill="#000" font-family="'Liberation Sans', Arial, Helvetica, sans-serif">20</text>
<text x="1430.88" y="1214.9" font-size="33" text-anchor="middle" font-weight="normal" fill="#000" font-family="'Liberation Sans', Arial, Helvetica, sans-serif">25</text>
<text x="1529.41" y="1214.9" font-size="33" text-anchor="middle" font-weight="normal" fill="#000" font-family="'Liberation Sans', Arial, Helvetica, sans-serif">30</text>
<text x="1627.95" y="1214.9" font-size="33" text-anchor="middle" font-weight="normal" fill="#000" font-family="'Liberation Sans', Arial, Helvetica, sans-serif">35</text>
<text x="1181.8" y="1258.8" font-size="33" text-anchor="start" font-weight="normal" fill="#000" font-family="'Liberation Sans', Arial, Helvetica, sans-serif">Cycle number</text>
<text x="0" y="0" font-size="32.6" text-anchor="start" font-weight="normal" fill="#000" font-family="'Liberation Sans', Arial, Helvetica, sans-serif" transform="translate(866,1176.2) rotate(-90)">Discharge capacity retention / %</text>
<circle cx="957.91" cy="787.7" r="8.3" fill="#000"/>
<circle cx="977.61" cy="796.5" r="8.3" fill="#000"/>
<circle cx="997.32" cy="805.6" r="8.3" fill="#000"/>
<circle cx="1017.03" cy="812" r="8.3" fill="#000"/>
<circle cx="1036.74" cy="816.5" r="8.3" fill="#000"/>
<circle cx="1056.44" cy="819.3" r="8.3" fill="#000"/>
<circle cx="1076.15" cy="821.5" r="8.3" fill="#000"/>
<circle cx="1095.86" cy="823.55" r="8.3" fill="#000"/>
<circle cx="1115.56" cy="824.75" r="8.3" fill="#000"/>
<circle cx="1135.27" cy="826" r="8.3" fill="#000"/>
<circle cx="1154.98" cy="828.5" r="8.3" fill="#000"/>
<circle cx="1174.68" cy="830.3" r="8.3" fill="#000"/>
<circle cx="1194.39" cy="831.8" r="8.3" fill="#000"/>
<circle cx="1214.1" cy="832.5" r="8.3" fill="#000"/>
<circle cx="1233.81" cy="833.8" r="8.3" fill="#000"/>
<circle cx="1253.51" cy="834.3" r="8.3" fill="#000"/>
<circle cx="1273.22" cy="835" r="8.3" fill="#000"/>
<circle cx="1292.93" cy="835.7" r="8.3" fill="#000"/>
<circle cx="1312.63" cy="836.9" r="8.3" fill="#000"/>
<circle cx="1332.34" cy="837.4" r="8.3" fill="#000"/>
<circle cx="1352.05" cy="838" r="8.3" fill="#000"/>
<circle cx="1371.75" cy="838.6" r="8.3" fill="#000"/>
<circle cx="1391.46" cy="838.5" r="8.3" fill="#000"/>
<circle cx="1411.17" cy="839.5" r="8.3" fill="#000"/>
<circle cx="1430.88" cy="839.5" r="8.3" fill="#000"/>
<circle cx="1450.58" cy="839.9" r="8.3" fill="#000"/>
<circle cx="1470.29" cy="840.9" r="8.3" fill="#000"/>
<circle cx="1490" cy="842.4" r="8.3" fill="#000"/>
<circle cx="1509.7" cy="842.4" r="8.3" fill="#000"/>
<circle cx="1529.41" cy="842.4" r="8.3" fill="#000"/>
<text x="95.8" y="38.4" font-size="54" text-anchor="start" font-weight="bold" fill="#000" font-family="Carlito, Calibri, 'Liberation Sans', sans-serif">a</text>
<text x="952" y="38.5" font-size="54" text-anchor="start" font-weight="bold" fill="#000" font-family="Carlito, Calibri, 'Liberation Sans', sans-serif">b</text>
<text x="97" y="677.4" font-size="54" text-anchor="start" font-weight="bold" fill="#000" font-family="Carlito, Calibri, 'Liberation Sans', sans-serif">c</text>
<text x="952.1" y="677.7" font-size="54" text-anchor="start" font-weight="bold" fill="#000" font-family="Carlito, Calibri, 'Liberation Sans', sans-serif">d</text>
</svg>
</body></html>
